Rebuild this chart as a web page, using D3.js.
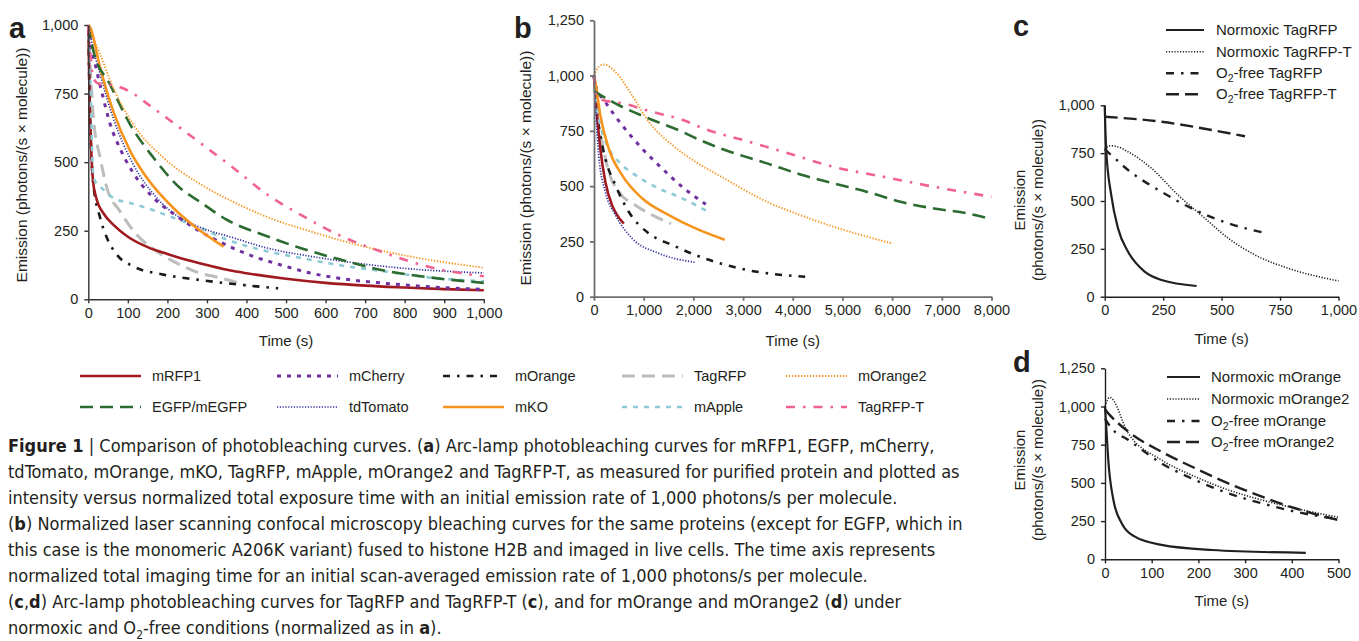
<!DOCTYPE html>
<html>
<head>
<meta charset="utf-8">
<script src="https://cdn.jsdelivr.net/npm/d3@7"></script>
<style>
  body { margin: 0; background: #fff; }
  svg text { font-family: "Liberation Sans", Arial, sans-serif; fill: #231f20; }
  .cap text { font-family: "Liberation Sans Narrow", "DejaVu Sans Condensed", sans-serif; }
</style>
</head>
<body>
<svg id="fig" width="1359" height="641"></svg>
<script>
// ---- panel a: arc-lamp, purified protein  [time (s), emission]
const a_mRFP1    = [[0,1000],[3,750],[7,560],[12,430],[20,370],[40,310],[63,272],[100,228],[150,190],[200,165],[250,143],[300,125],[367,103],[400,95],[500,75],[600,60],[700,50],[800,43],[900,37],[1000,33]];
const a_mCherry  = [[0,1000],[8,920],[20,840],[35,750],[55,640],[80,550],[114,460],[165,370],[224,303],[274,255],[346,200],[418,156],[485,126],[561,96],[637,76],[738,60],[848,47],[1000,36]];
const a_mOrange  = [[0,1000],[3,750],[7,550],[13,418],[30,297],[47,224],[72,163],[114,120],[190,90],[274,72],[384,53],[480,40]];
const a_TagRFP   = [[0,1000],[5,850],[13,661],[30,516],[47,406],[80,321],[122,236],[173,175],[232,126],[283,95],[316,84],[367,65],[400,50]];
const a_mOrange2 = [[0,1000],[10,960],[30,893],[63,771],[114,637],[190,516],[283,420],[367,355],[452,300],[561,248],[679,199],[789,163],[1000,115]];
const a_EGFP     = [[0,1000],[13,905],[55,783],[106,637],[165,516],[232,406],[283,355],[350,290],[452,230],[536,187],[637,145],[738,108],[873,78],[1000,60]];
const a_tdTomato = [[0,1000],[10,930],[30,820],[63,661],[114,491],[173,370],[232,297],[283,262],[367,224],[452,187],[561,157],[662,135],[789,114],[1000,96]];
const a_mKO      = [[0,1000],[5,990],[30,844],[63,686],[106,540],[148,443],[215,333],[274,260],[342,192]];
const a_mApple   = [[0,1000],[5,800],[13,443],[38,400],[63,370],[106,351],[148,333],[215,297],[283,260],[350,218],[452,175],[536,151],[637,124],[747,102],[873,78],[1000,66]];
const a_TagRFPT  = [[0,1000],[5,900],[12,810],[25,787],[70,778],[114,750],[150,712],[232,625],[283,570],[367,479],[452,382],[536,309],[637,232],[738,175],[873,114],[1000,84]];

// ---- panel b: confocal, live cells
const b_mRFP1    = [[0,1000],[20,940],[60,821],[127,670],[228,520],[363,414],[450,375],[600,330]];
const b_mCherry  = [[0,1000],[27,957],[228,881],[565,776],[968,670],[1371,580],[1774,497],[2250,418]];
const b_mOrange  = [[0,1000],[40,880],[94,776],[228,625],[430,505],[699,384],[1103,286],[1573,234],[2200,175],[3010,124],[4250,90]];
const b_TagRFP   = [[0,1000],[60,830],[161,700],[296,565],[498,474],[833,414],[1236,362],[1550,330]];
const b_mOrange2 = [[0,1000],[100,1040],[195,1050],[430,1017],[766,911],[1103,791],[1573,686],[2043,610],[2581,540],[3482,429],[4153,369],[4825,316],[5498,271],[6000,241]];
const b_EGFP     = [[0,930],[430,874],[1103,806],[1774,746],[2137,708],[2581,668],[3482,603],[4153,553],[4825,512],[5498,474],[6169,429],[6841,399],[7514,377],[8000,351]];
const b_tdTomato = [[0,1000],[40,820],[94,640],[228,474],[430,369],[766,264],[1304,196],[2050,155]];
const b_mKO      = [[0,1000],[27,971],[127,821],[296,670],[565,550],[968,445],[1506,369],[2043,309],[2630,258]];
const b_mApple   = [[0,1000],[40,880],[127,776],[296,670],[498,610],[833,550],[1236,497],[1774,445],[2250,390]];
const b_TagRFPT  = [[0,1000],[60,900],[161,890],[565,875],[1103,840],[1774,800],[2272,755],[3010,708],[3817,655],[4825,587],[5833,542],[6841,497],[8000,452]];

// ---- panel c: TagRFP / TagRFP-T, normoxic vs O2-free
const c_normTagRFP  = [[0,1000],[3,870],[7,757],[28,531],[57,357],[100,235],[171,131],[243,87],[393,56]];
const c_normTagRFPT = [[0,770],[21,789],[50,785],[100,757],[200,671],[314,531],[429,409],[529,305],[643,218],[786,148],[1000,82]];
const c_o2TagRFP    = [[0,770],[28,740],[100,662],[243,548],[386,453],[529,383],[700,330]];
const c_o2TagRFPT   = [[0,940],[243,914],[457,871],[600,838]];

// ---- panel d: mOrange / mOrange2
const d_normOrange  = [[0,1000],[3,850],[7,650],[18,388],[36,235],[64,148],[121,94],[229,61],[430,42]];
const d_normOrange2 = [[0,1000],[10,1060],[50,824],[121,650],[193,541],[264,454],[336,388],[407,334],[500,275]];
const d_o2Orange    = [[0,920],[14,857],[50,781],[121,628],[193,519],[264,432],[336,366],[407,312],[500,262]];
const d_o2Orange2   = [[0,980],[7,955],[50,835],[121,704],[193,596],[264,497],[336,410],[407,334],[500,257]];

// legend / labels
const mainNames = ["mRFP1","mCherry","mOrange","TagRFP","mOrange2","EGFP/mEGFP","tdTomato","mKO","mApple","TagRFP-T"];
const cNames = ["Normoxic TagRFP","Normoxic TagRFP-T","O2-free TagRFP","O2-free TagRFP-T"];
const dNames = ["Normoxic mOrange","Normoxic mOrange2","O2-free mOrange","O2-free mOrange2"];

// caption: [text, 0 normal / 1 bold / 2 subscript]
const captionLines = [
  [["Figure 1",1],[" | Comparison of photobleaching curves. (",0],["a",1],[") Arc-lamp photobleaching curves for mRFP1, EGFP, mCherry,",0]],
  [["tdTomato, mOrange, mKO, TagRFP, mApple, mOrange2 and TagRFP-T, as measured for purified protein and plotted as",0]],
  [["intensity versus normalized total exposure time with an initial emission rate of 1,000 photons/s per molecule.",0]],
  [["(",0],["b",1],[") Normalized laser scanning confocal microscopy bleaching curves for the same proteins (except for EGFP, which in",0]],
  [["this case is the monomeric A206K variant) fused to histone H2B and imaged in live cells. The time axis represents",0]],
  [["normalized total imaging time for an initial scan-averaged emission rate of 1,000 photons/s per molecule.",0]],
  [["(",0],["c",1],[",",0],["d",1],[") Arc-lamp photobleaching curves for TagRFP and TagRFP-T (",0],["c",1],["), and for mOrange and mOrange2 (",0],["d",1],[") under",0]],
  [["normoxic and O",0],["2",2],["-free conditions (normalized as in ",0],["a",1],[").",0]]
];

// ---- styles
const styles = {
  "mRFP1":      { color: "#a0191f", dash: null,        w: 2.6 },
  "mCherry":    { color: "#7030a0", dash: "4,6",       w: 3 },
  "mOrange":    { color: "#1a1a1a", dash: "7,7,2.5,7", w: 2.6 },
  "TagRFP":     { color: "#bdbdbd", dash: "13,7",      w: 3 },
  "mOrange2":   { color: "#f7941d", dash: "1.3,1.7",   w: 1.9 },
  "EGFP/mEGFP": { color: "#2c6b2f", dash: "13,7",      w: 2.6 },
  "tdTomato":   { color: "#2e2ea0", dash: "1.2,1.6",   w: 1.7 },
  "mKO":        { color: "#f7941d", dash: null,        w: 2.6 },
  "mApple":     { color: "#8ccad6", dash: "5,6",       w: 2.6 },
  "TagRFP-T":   { color: "#f06292", dash: "9,8,2.5,8", w: 2.6 }
};
const blackStyles = [
  { color: "#231f20", dash: null,         w: 2.2 },
  { color: "#231f20", dash: "1.2,1.6",    w: 1.6 },
  { color: "#231f20", dash: "8,7,2.5,7",  w: 2.4 },
  { color: "#231f20", dash: "13,6",       w: 2.4 }
];

const svg = d3.select("#fig");
const fmt = d3.format(",");

function drawPanel(cfg) {
  const x = d3.scaleLinear().domain(cfg.xDomain).range(cfg.xRange);
  const y = d3.scaleLinear().domain(cfg.yDomain).range(cfg.yRange);
  const g = svg.append("g");

  const line = d3.line().x(d => x(d[0])).y(d => y(d[1])).curve(d3.curveMonotoneX);
  cfg.series.forEach(s => {
    g.append("path").attr("d", line(s.data)).attr("fill", "none")
      .attr("stroke", s.style.color).attr("stroke-width", s.style.w)
      .attr("stroke-dasharray", s.style.dash).attr("stroke-linecap", "butt");
  });

  const ax = g.append("g").attr("transform", `translate(0,${cfg.yRange[0]})`)
    .call(d3.axisBottom(x).tickValues(cfg.xTicks).tickFormat(fmt).tickSize(4).tickSizeOuter(0).tickPadding(4));
  const ay = g.append("g").attr("transform", `translate(${cfg.xRange[0]},0)`)
    .call(d3.axisLeft(y).tickValues(cfg.yTicks).tickFormat(fmt).tickSize(4).tickSizeOuter(0).tickPadding(6));
  [ax, ay].forEach(a => {
    a.selectAll("path,line").attr("stroke", cfg.axisColor).attr("stroke-width", cfg.axisW);
    a.selectAll("text").attr("font-size", 14.5).attr("fill", "#231f20");
  });

  g.append("text").attr("x", d3.mean(cfg.xRange)).attr("y", cfg.xTitleY)
    .attr("text-anchor", "middle").attr("font-size", 15).text("Time (s)");

  if (cfg.yTitle2) {
    g.append("text").attr("transform", `translate(${cfg.yTitleX - 9},${cfg.yTitleY}) rotate(-90)`)
      .attr("text-anchor", "middle").attr("font-size", 15).text("Emission");
    g.append("text").attr("transform", `translate(${cfg.yTitleX + 9},${cfg.yTitleY}) rotate(-90)`)
      .attr("text-anchor", "middle").attr("font-size", 15).text("(photons/(s \u00d7 molecule))");
  } else {
    g.append("text").attr("transform", `translate(${cfg.yTitleX},${cfg.yTitleY}) rotate(-90)`)
      .attr("text-anchor", "middle").attr("font-size", 15.5).text("Emission (photons/(s \u00d7 molecule))");
  }

  g.append("text").attr("x", cfg.letter[1]).attr("y", cfg.letter[2])
    .attr("font-size", 29).attr("font-weight", "bold").text(cfg.letter[0]);
}

const mainA = [a_mRFP1, a_mCherry, a_mOrange, a_TagRFP, a_mOrange2, a_EGFP, a_tdTomato, a_mKO, a_mApple, a_TagRFPT];
const mainB = [b_mRFP1, b_mCherry, b_mOrange, b_TagRFP, b_mOrange2, b_EGFP, b_tdTomato, b_mKO, b_mApple, b_TagRFPT];
const drawOrder = [3, 2, 0, 8, 6, 1, 7, 5, 4, 9];

drawPanel({
  xDomain: [0, 1000], xRange: [88.3, 483.8], yDomain: [0, 1000], yRange: [299.3, 25],
  xTicks: d3.range(0, 1001, 100), yTicks: [0, 250, 500, 750, 1000],
  series: drawOrder.map(i => ({ data: mainA[i], style: styles[mainNames[i]] })),
  axisColor: "#333", axisW: 1.4, xTitleY: 346, yTitleX: 27, yTitleY: 165, letter: ["a", 9, 38]
});
drawPanel({
  xDomain: [0, 8000], xRange: [594, 991.5], yDomain: [0, 1250], yRange: [296.7, 20.3],
  xTicks: d3.range(0, 8001, 1000), yTicks: d3.range(0, 1251, 250),
  series: drawOrder.map(i => ({ data: mainB[i], style: styles[mainNames[i]] })),
  axisColor: "#6d6e71", axisW: 1.8, xTitleY: 346, yTitleX: 531, yTitleY: 168, letter: ["b", 514, 38]
});
drawPanel({
  xDomain: [0, 1000], xRange: [1104.7, 1338.5], yDomain: [0, 1000], yRange: [296.7, 105.3],
  xTicks: d3.range(0, 1001, 250), yTicks: d3.range(0, 1001, 250),
  series: [c_normTagRFP, c_normTagRFPT, c_o2TagRFP, c_o2TagRFPT].map((d, i) => ({ data: d, style: blackStyles[i] })),
  axisColor: "#231f20", axisW: 1.4, xTitleY: 344, yTitleX: 1034, yTitleY: 200, yTitle2: true, letter: ["c", 1013, 36]
});
drawPanel({
  xDomain: [0, 500], xRange: [1105, 1338.5], yDomain: [0, 1250], yRange: [559.3, 368.3],
  xTicks: d3.range(0, 501, 100), yTicks: d3.range(0, 1251, 250),
  series: [d_normOrange, d_normOrange2, d_o2Orange, d_o2Orange2].map((d, i) => ({ data: d, style: blackStyles[i] })),
  axisColor: "#231f20", axisW: 1.4, xTitleY: 606, yTitleX: 1034, yTitleY: 460, yTitle2: true, letter: ["d", 1013, 372]
});

// ---- legend under a and b
const legCols = [80, 277, 443, 622, 786];
const legRows = [376, 407];
const leg = svg.append("g");
mainNames.forEach((name, i) => {
  const cx = legCols[i % 5], cy = legRows[Math.floor(i / 5)], st = styles[name];
  leg.append("line").attr("x1", cx).attr("x2", cx + 61).attr("y1", cy).attr("y2", cy)
    .attr("stroke", st.color).attr("stroke-width", st.w).attr("stroke-dasharray", st.dash);
  leg.append("text").attr("x", cx + 72).attr("y", cy + 5).attr("font-size", 14.5).text(name);
});

// ---- small legends for c and d
function smallLegend(names, x1, x2, tx, rows) {
  const lg = svg.append("g");
  names.forEach((name, i) => {
    const st = blackStyles[i];
    lg.append("line").attr("x1", x1).attr("x2", x2).attr("y1", rows[i]).attr("y2", rows[i])
      .attr("stroke", st.color).attr("stroke-width", st.w).attr("stroke-dasharray", st.dash);
    const t = lg.append("text").attr("x", tx).attr("y", rows[i] + 5).attr("font-size", 15);
    if (name.startsWith("O2")) {
      t.append("tspan").text("O");
      t.append("tspan").attr("font-size", 10.5).attr("dy", 4).text("2");
      t.append("tspan").attr("dy", -4).text(name.slice(2));
    } else {
      t.text(name);
    }
  });
}
smallLegend(cNames, 1166, 1204, 1216, [30, 51.7, 73.3, 94.3]);
smallLegend(dNames, 1167, 1200, 1211, [377, 399, 421, 442]);

// ---- caption
const cap = svg.append("g").attr("class", "cap");
captionLines.forEach((segs, i) => {
  const t = cap.append("text").attr("x", 8).attr("y", 452 + i * 26).attr("font-size", 18);
  let shifted = false;
  segs.forEach(([txt, kind]) => {
    const ts = t.append("tspan").text(txt);
    if (kind === 1) ts.attr("font-weight", "bold");
    if (kind === 2) { ts.attr("font-size", 12).attr("dy", 5); shifted = true; }
    else if (shifted) { ts.attr("dy", -5); shifted = false; }
  });
});
</script>
</body>
</html>
